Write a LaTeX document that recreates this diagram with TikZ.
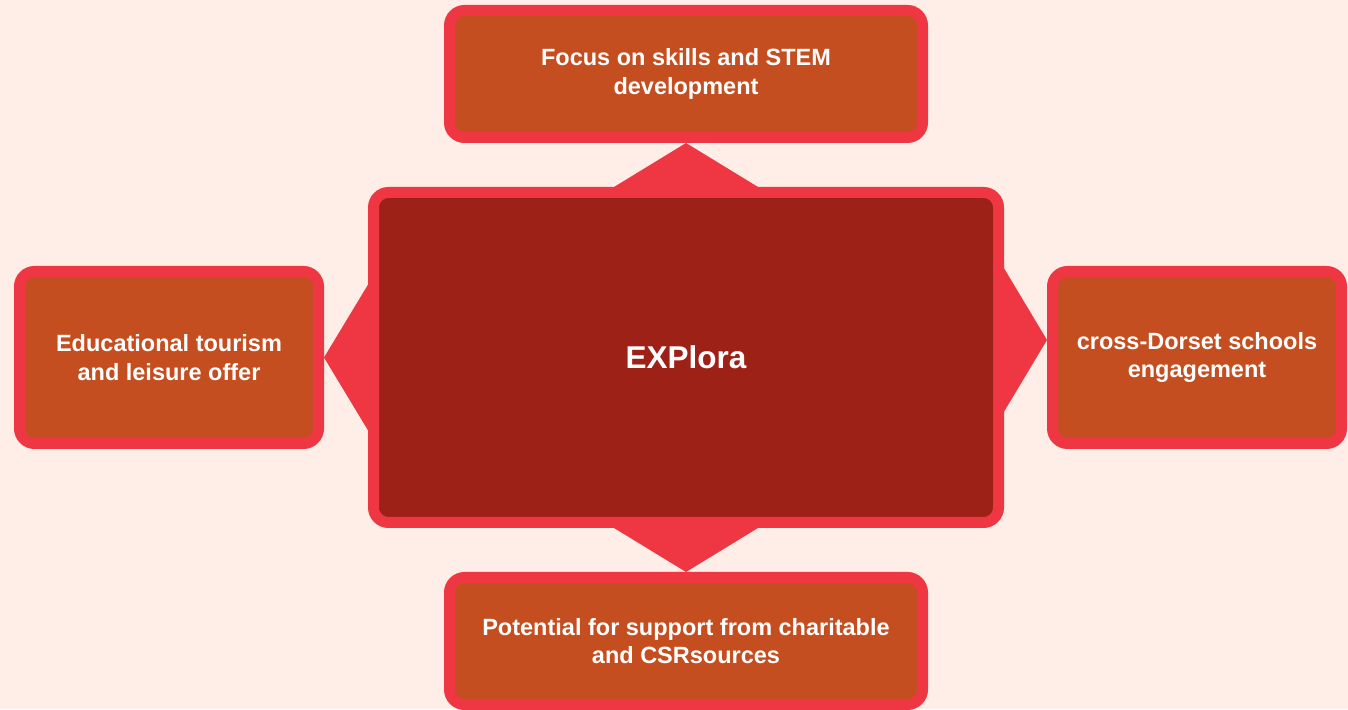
\documentclass[tikz,border=0pt]{standalone}
\usepackage{fontspec}
\setmainfont{Liberation Sans}
\usepackage{tikz}
\definecolor{pagebg}{HTML}{FEEEE7}
\definecolor{rim}{HTML}{EF3743}
\definecolor{hubfill}{HTML}{9D2116}
\definecolor{leaffill}{HTML}{C44E1F}
\begin{document}
\begin{tikzpicture}[x=1pt,y=1pt,
		box/.style={draw=rim,line width=11pt,rounded corners=15pt,text=white,align=center,
			font=\bfseries\fontsize{23.5}{28.5}\selectfont},
		leaf/.style={box,fill=leaffill},
		hubbox/.style={box,fill=hubfill,font=\bfseries\fontsize{31.5}{36}\selectfont},
		spoke/.style={fill=rim}]
			% page
			\fill[pagebg] (0,0) rectangle (1348,709);
			\useasboundingbox (0,0) rectangle (1348,709);
			% the hub and the four leaves
			\node[hubbox,minimum width=625pt,minimum height=330pt] (hub) at (686,351.5) {EXPlora};
			\node[leaf,minimum width=473pt,minimum height=127pt] (stem) at (686,635) {Focus on skills and STEM\\development};
			\node[leaf,minimum width=473pt,minimum height=127pt] (csr) at (686,68) {Potential for support from charitable\\and CSRsources};
			\node[leaf,minimum width=299pt,minimum height=172pt] (tourism) at (169,351.5) {Educational tourism\\and leisure offer};
			\node[leaf,minimum width=289pt,minimum height=172pt] (schools) at (1197,351.5) {cross-Dorset schools\\engagement};
			% the spokes
			\fill[spoke] ([xshift=-81pt,yshift=-5.5pt]hub.north) -- ([xshift=81pt,yshift=-5.5pt]hub.north) -- (stem.south) -- cycle;
			\fill[spoke] ([xshift=-81pt,yshift=5.5pt]hub.south) -- ([xshift=81pt,yshift=5.5pt]hub.south) -- (csr.north) -- cycle;
			\fill[spoke] ([xshift=5.5pt,yshift=-82pt]hub.west) -- ([xshift=5.5pt,yshift=82pt]hub.west) -- (tourism.east) -- cycle;
			\coordinate (tip) at ([yshift=17.5pt]schools.west);
			\fill[spoke] ([xshift=-5.5pt,yshift=-63.5pt]hub.east) -- ([xshift=-5.5pt,yshift=98.5pt]hub.east) -- (tip) -- cycle;
		\end{tikzpicture}
\end{document}
